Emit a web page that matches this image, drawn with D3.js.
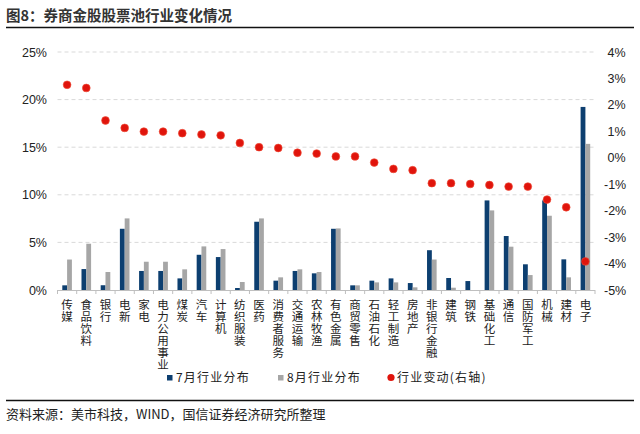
<!DOCTYPE html>
<html>
<head>
<meta charset="utf-8">
<script src="https://cdn.jsdelivr.net/npm/d3@7"></script>
<style>
  body { margin: 0; background: #fff; }
  svg { display: block; }
  text { font-family: "Liberation Sans", Arial, "Noto Sans CJK SC", sans-serif; }
  .cjk { font-family: "Noto Sans CJK SC", sans-serif; }
  .vert { writing-mode: vertical-rl; text-orientation: upright; }
</style>
</head>
<body>
<script>
const width = 640, height = 434;

// industries, left to right
const categories = ["传媒", "食品饮料", "银行", "电新", "家电", "电力公用事业", "煤炭", "汽车",
    "计算机", "纺织服装", "医药", "消费者服务", "交通运输", "农林牧渔", "有色金属", "商贸零售",
    "石油石化", "轻工制造", "房地产", "非银行金融", "建筑", "钢铁", "基础化工", "通信",
    "国防军工", "机械", "建材", "电子"];

// industry share in July (%)
const julShare = [0.49, 2.2, 0.5, 6.43, 2.0, 2.0, 1.22, 3.7, 3.46, 0.21, 7.17, 0.98, 2.0, 1.75,
    6.43, 0.49, 0.98, 1.22, 0.73, 4.18, 1.26, 0.94, 9.41, 5.67, 2.7, 9.41, 3.22, 19.23];

// industry share in August (%)
const augShare = [3.2, 4.86, 1.89, 7.52, 2.97, 2.97, 2.17, 4.58, 4.3, 0.84, 7.52, 1.33, 2.17, 1.89,
    6.47, 0.49, 0.8, 0.8, 0.28, 3.2, 0.24, 0, 8.36, 4.55, 1.57, 7.8, 1.33, 15.35];

// change, right axis (%)
const change = [2.76, 2.64, 1.41, 1.13, 0.99, 0.99, 0.93, 0.88, 0.85, 0.56, 0.40, 0.37, 0.19, 0.16,
    0.05, 0.05, -0.18, -0.42, -0.47, -0.96, -0.96, -0.99, -1.03, -1.09, -1.09, -1.58, -1.87, -3.92];

const leftTicks = [0, 5, 10, 15, 20, 25];
const rightTicks = [4, 3, 2, 1, 0, -1, -2, -3, -4, -5];

const colors = { jul: "#0d3f70", aug: "#a6a6a6", dot: "#e0140c" };

const plot = { left: 57.5, right: 595, top: 52, bottom: 290 };

const svg = d3.select("body").append("svg")
    .attr("width", width)
    .attr("height", height);

// title + rules
svg.append("text")
    .attr("class", "cjk")
    .attr("x", 6)
    .attr("y", 21)
    .attr("font-size", "14.5px")
    .attr("font-weight", "bold")
    .attr("fill", "#333")
    .text("图8：券商金股股票池行业变化情况");

svg.append("line")
    .attr("x1", 6).attr("x2", 634)
    .attr("y1", 27.5).attr("y2", 27.5)
    .attr("stroke", "#111").attr("stroke-width", 1.3);

svg.append("line")
    .attr("x1", 6).attr("x2", 634)
    .attr("y1", 400.5).attr("y2", 400.5)
    .attr("stroke", "#111").attr("stroke-width", 1.3);

svg.append("text")
    .attr("class", "cjk")
    .attr("x", 6)
    .attr("y", 419)
    .attr("font-size", "13px")
    .attr("fill", "#222")
    .text("资料来源：美市科技，WIND，国信证券经济研究所整理");

// scales
const x = d3.scaleBand()
    .domain(categories)
    .range([plot.left, plot.right]);

const yL = d3.scaleLinear().domain([0, 25]).range([plot.bottom, plot.top]);
const yR = d3.scaleLinear().domain([-5, 4]).range([plot.bottom, plot.top]);

const barW = 4.8;

// gridlines
svg.append("g")
    .selectAll("line")
    .data(leftTicks.filter(d => d > 0))
    .enter()
    .append("line")
    .attr("x1", plot.left).attr("x2", plot.right)
    .attr("y1", d => yL(d)).attr("y2", d => yL(d))
    .attr("stroke", "#d9d9d9")
    .attr("stroke-width", 1)
    .attr("stroke-dasharray", "4,3");

// left axis labels
svg.append("g")
    .selectAll("text")
    .data(leftTicks)
    .enter()
    .append("text")
    .attr("x", 47)
    .attr("y", d => yL(d) + 4.5)
    .attr("text-anchor", "end")
    .attr("font-size", "12.5px")
    .attr("fill", "#222")
    .text(d => d + "%");

// right axis labels
svg.append("g")
    .selectAll("text")
    .data(rightTicks)
    .enter()
    .append("text")
    .attr("x", d => d < 0 ? 604 : 607.5)
    .attr("y", d => yR(d) + 4.5)
    .attr("font-size", "12.5px")
    .attr("fill", "#222")
    .text(d => (d < 0 ? "-" + Math.abs(d) : d) + "%");

// bars
svg.append("g")
    .selectAll("rect")
    .data(categories)
    .enter()
    .append("rect")
    .attr("x", d => x(d) + x.bandwidth() / 2 - barW)
    .attr("y", (d, i) => yL(julShare[i]))
    .attr("width", barW)
    .attr("height", (d, i) => yL(0) - yL(julShare[i]))
    .attr("fill", colors.jul);

svg.append("g")
    .selectAll("rect")
    .data(categories)
    .enter()
    .append("rect")
    .attr("x", d => x(d) + x.bandwidth() / 2)
    .attr("y", (d, i) => yL(augShare[i]))
    .attr("width", barW)
    .attr("height", (d, i) => yL(0) - yL(augShare[i]))
    .attr("fill", colors.aug);

// x axis line + ticks between categories
svg.append("line")
    .attr("x1", plot.left).attr("x2", plot.right)
    .attr("y1", plot.bottom + 0.5).attr("y2", plot.bottom + 0.5)
    .attr("stroke", "#bfbfbf");

svg.append("g")
    .selectAll("line")
    .data(categories.concat(["end"]))
    .enter()
    .append("line")
    .attr("x1", (d, i) => plot.left + i * x.step())
    .attr("x2", (d, i) => plot.left + i * x.step())
    .attr("y1", plot.bottom).attr("y2", plot.bottom + 4)
    .attr("stroke", "#bfbfbf");

// dots on right axis
svg.append("g")
    .selectAll("circle")
    .data(categories)
    .enter()
    .append("circle")
    .attr("cx", d => x(d) + x.bandwidth() / 2)
    .attr("cy", (d, i) => yR(change[i]))
    .attr("r", 3.9)
    .attr("fill", colors.dot)
    .attr("stroke", "#f0503a")
    .attr("stroke-width", 0.6);

// category labels, written top to bottom
svg.append("g")
    .selectAll("text")
    .data(categories)
    .enter()
    .append("text")
    .attr("class", "cjk vert")
    .attr("x", d => x(d) + x.bandwidth() / 2)
    .attr("y", 299)
    .attr("font-size", "11.5px")
    .attr("letter-spacing", "0.5px")
    .attr("fill", "#222")
    .text(d => d);

// legend
const legend = [
    { label: "7月行业分布", color: colors.jul, shape: "rect", x: 167 },
    { label: "8月行业分布", color: colors.aug, shape: "rect", x: 278 },
    { label: "行业变动(右轴)", color: colors.dot, shape: "circle", x: 388 }
];

const lg = svg.append("g")
    .selectAll("g")
    .data(legend)
    .enter()
    .append("g")
    .attr("transform", d => `translate(${d.x},377.5)`);

lg.filter(d => d.shape === "rect")
    .append("rect")
    .attr("x", 0).attr("y", -2.5)
    .attr("width", 5.5).attr("height", 5.5)
    .attr("fill", d => d.color);

lg.filter(d => d.shape === "circle")
    .append("circle")
    .attr("cx", 3).attr("cy", 0)
    .attr("r", 3.6)
    .attr("fill", d => d.color);

lg.append("text")
    .attr("class", "cjk")
    .attr("x", 9)
    .attr("y", 4.5)
    .attr("font-size", "12px")
    .attr("letter-spacing", "1.2px")
    .attr("fill", "#222")
    .text(d => d.label);
</script>
</body>
</html>
